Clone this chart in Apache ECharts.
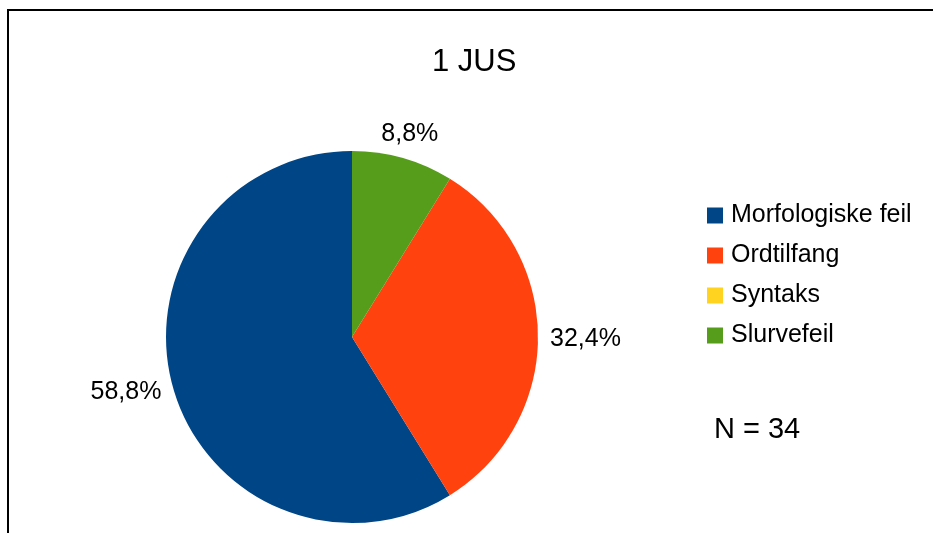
<!DOCTYPE html>
<html>
<head>
<meta charset="utf-8">
<script src="https://cdn.jsdelivr.net/npm/echarts@6/dist/echarts.min.js"></script>
<style>
  html, body { margin: 0; padding: 0; background: #ffffff; }
  #chart { width: 933px; height: 533px; }
</style>
</head>
<body>
<div id="chart"></div>
<script>
// Error categories and counts for "1 JUS"
const categories = ['Morfologiske feil', 'Ordtilfang', 'Syntaks', 'Slurvefeil'];
const counts = [20, 11, 0, 3];
const colors = ['#004586', '#ff420e', '#ffd320', '#579d1c'];
const titleText = '1 JUS';

const total = counts.reduce((a, b) => a + b, 0);
const FONT = '"Liberation Sans", Arial, sans-serif';
const CX = 352, CY = 337, R = 186;

const pieData = categories.map((name, i) => ({
  name: name,
  value: counts[i],
  itemStyle: { color: colors[i] },
  label: { show: counts[i] > 0 }
}));

const chart = echarts.init(document.getElementById('chart'), null, { renderer: 'canvas' });

chart.setOption({
  animation: false,
  backgroundColor: '#ffffff',
  title: {
    text: titleText,
    left: 432,
    top: 47,
    padding: 0,
    textStyle: { fontFamily: FONT, fontSize: 31, fontWeight: 'normal', color: '#000000' }
  },
  legend: {
    orient: 'vertical',
    left: 707,
    top: 203,
    padding: 0,
    icon: 'rect',
    itemWidth: 16,
    itemHeight: 16,
    itemGap: 15,
    selectedMode: false,
    data: categories,
    textStyle: { fontFamily: FONT, fontSize: 25, color: '#000000', padding: [0, 0, 0, 3] }
  },
  graphic: [
    {
      type: 'rect',
      silent: true,
      shape: { x: 8, y: 10, width: 1200, height: 1200 },
      style: { fill: 'none', stroke: '#000000', lineWidth: 2 }
    },
    {
      type: 'text',
      silent: true,
      x: 714,
      y: 430,
      style: {
        text: 'N = ' + total,
        fontFamily: FONT,
        fontSize: 29,
        fill: '#000000',
        verticalAlign: 'middle'
      }
    }
  ],
  series: [{
    type: 'pie',
    center: [CX, CY],
    radius: R,
    startAngle: 90,
    clockwise: false,
    avoidLabelOverlap: false,
    emphasis: { disabled: true },
    itemStyle: { borderWidth: 0 },
    label: {
      show: true,
      position: 'outside',
      fontFamily: FONT,
      fontSize: 25,
      color: '#000000',
      formatter: p => (p.value / total * 100).toFixed(1).replace('.', ',') + '%'
    },
    labelLine: { show: false, length: 7, length2: 0 },
    // Labels above or below the pie are centred on their anchor;
    // side labels are nudged down a little
    labelLayout: function (p) {
      const r = p.labelRect;
      const ax = p.align === 'right' ? r.x + r.width : r.x;
      const ay = r.y + r.height / 2;
      const dx = ax - CX, dy = ay - CY;
      if (Math.abs(dy) > 2 * Math.abs(dx)) {
        return {
          x: ax,
          y: ay + (dy < 0 ? -5 : 5),
          align: 'center',
          verticalAlign: dy < 0 ? 'bottom' : 'top'
        };
      }
      return { dy: 2 };
    },
    data: pieData
  }]
});
</script>
</body>
</html>
